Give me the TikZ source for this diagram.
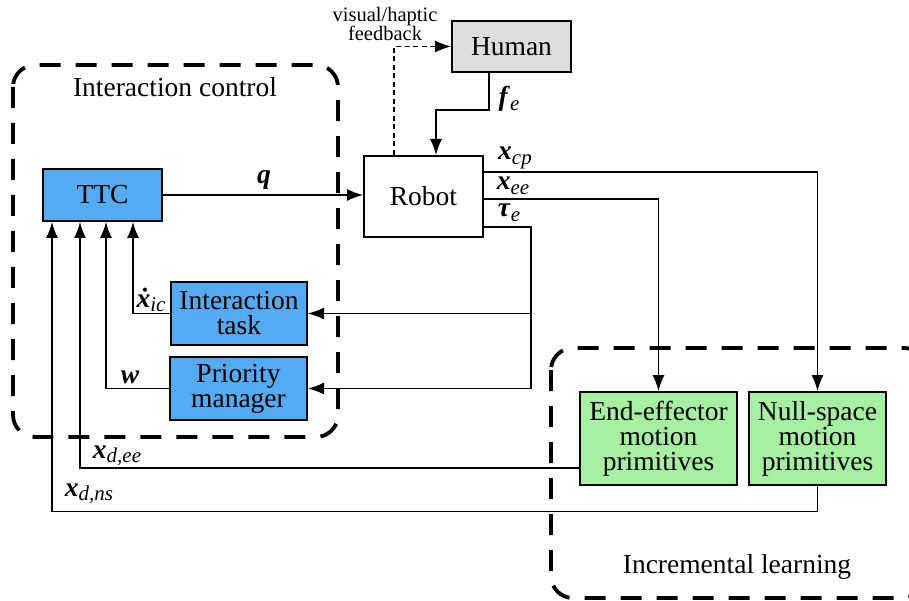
\documentclass[tikz,border=0pt]{standalone}
\usepackage{fontspec}
\setmainfont{Liberation Serif}
\usetikzlibrary{arrows.meta}
\definecolor{ctrlblue}{RGB}{86,170,242}
\definecolor{primgreen}{RGB}{166,238,160}
\definecolor{humangray}{RGB}{221,221,221}
\newcommand\bvec[1]{\textbf{\textit{#1}}}
\newcommand\subs[1]{\raisebox{-0.35ex}{\fontsize{21}{21}\selectfont\textit{#1}}}
\begin{document}
\begin{tikzpicture}[x=1pt,y=-1pt,
  blk/.style={draw=black,line width=2pt,inner sep=0pt,align=center,
    font=\rmfamily\fontsize{27.5}{25}\selectfont},
  lbl/.style={inner sep=0pt,font=\rmfamily\fontsize{27.5}{27.5}\selectfont},
  conn/.style={line width=1.4pt},
  arr/.style={conn,-{Latex[length=16pt,width=12pt]}},
  groupbox/.style={line width=3.8pt,dash pattern=on 21pt off 15pt,rounded corners=22pt}]
\useasboundingbox (0,0) rectangle (909,601);
\clip (0,0) rectangle (909,601);

% blocks
\node[blk,fill=ctrlblue,minimum width=119pt,minimum height=52pt] (ttc) at (102.5,195) {TTC};
\node[blk,fill=ctrlblue,minimum width=136pt,minimum height=63pt] (itask) at (239,313.5) {Interaction\\task};
\node[blk,fill=ctrlblue,minimum width=137pt,minimum height=63pt] (pman) at (238.5,388.5) {Priority\\manager};
\node[blk,minimum width=119pt,minimum height=81pt] (robot) at (423.5,196.5) {Robot};
\node[blk,fill=humangray,minimum width=119pt,minimum height=51pt] (human) at (511.5,46.5) {Human};
\node[blk,fill=primgreen,minimum width=157pt,minimum height=93pt] (eemp) at (658.5,438.5) {End-effector\\motion\\primitives};
\node[blk,fill=primgreen,minimum width=137pt,minimum height=93pt] (nsmp) at (817.5,438.5) {Null-space\\motion\\primitives};

% connectors
\draw[arr] (ttc.east) -- (ttc.east -| robot.west);
\draw[arr,line width=1.2pt,dash pattern=on 5pt off 3.5pt] ([xshift=-29.5pt]robot.north) |- (human.west);
\draw[arr] ([xshift=-22.5pt]human.south) -- ++(0,37) -| ([xshift=12.5pt]robot.north);
\draw[arr] ([yshift=24.5pt]robot.east) -| (nsmp.north);
\draw[arr] ([yshift=-2.5pt]robot.east) -| (eemp.north);
\coordinate (tj) at (531,388.5);
\draw[arr] ([yshift=-30.5pt]robot.east) -| (tj) -- (pman.east);
\draw[arr] (tj |- itask.east) -- (itask.east);
\draw[arr] (itask.west) -| ([xshift=30.5pt]ttc.south);
\draw[arr] (pman.west) -| ([xshift=3.5pt]ttc.south);
\draw[arr] ([yshift=-29.5pt]eemp.west) -| ([xshift=-22.5pt]ttc.south);
\draw[arr] (nsmp.south) -- ++(0,25.5) -| ([xshift=-50.5pt]ttc.south);

% group boxes
\draw[groupbox] (13,65) rectangle (338,437);
\draw[groupbox] (551,348) rectangle (926,598);

% labels
\node[lbl] (icl) at (175,87) {Interaction control};
\node[lbl] (ill) at (737,567) {Incremental learning};
\node[inner sep=0pt,align=center,font=\rmfamily\fontsize{20.5}{18}\selectfont] (fbl) at (385,24) {visual/haptic\\feedback};
\node[lbl] (ql) at (264,180) {\bvec{q}};
\node[lbl] (fel) at (509,99) {\bvec{f}\subs{e}};
\node[lbl] (xcpl) at (515,158) {\bvec{x}\subs{cp}};
\node[lbl] (xeel) at (513,186) {\bvec{x}\subs{ee}};
\node[lbl] (tel) at (509,213) {\bvec{τ}\subs{e}};
\node[lbl] (xicl) at (151,300) {\bvec{\.x}\subs{ic}};
\node[lbl] (wl) at (130,377) {\bvec{w}};
\node[lbl] (xdeel) at (117,456) {\bvec{x}\subs{d,ee}};
\node[lbl] (xdnsl) at (89,494) {\bvec{x}\subs{d,ns}};
\end{tikzpicture}
\end{document}
